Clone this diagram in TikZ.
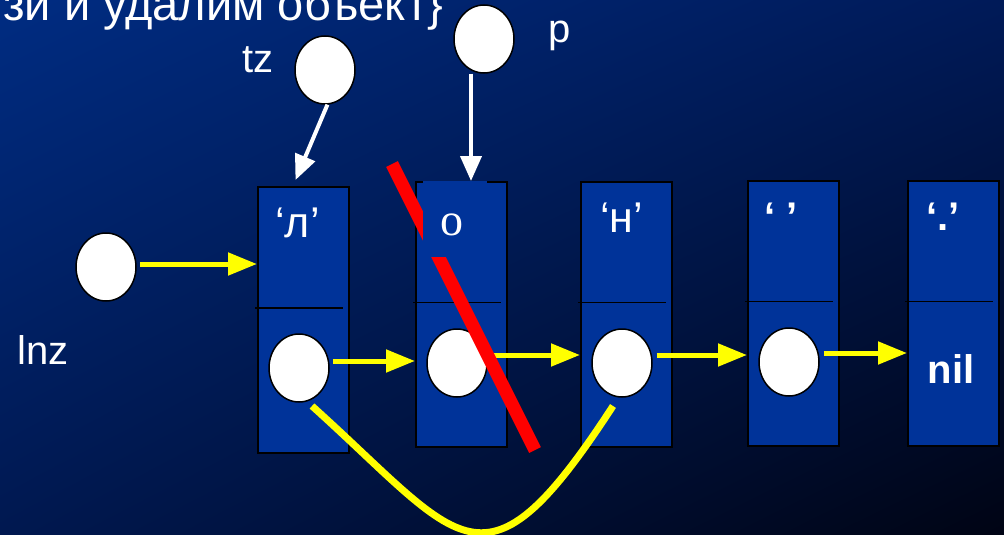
\documentclass[tikz,border=0pt]{standalone}
\usepackage{fontspec}
\setmainfont{Liberation Sans}
\newfontfamily\serifface{Liberation Serif}
\usetikzlibrary{arrows.meta,shapes.geometric,calc,shadings}

\definecolor{bgUL}{RGB}{0,44,130}
\definecolor{bgUR}{RGB}{0,26,88}
\definecolor{bgLL}{RGB}{0,24,80}
\definecolor{bgLR}{RGB}{0,4,20}
\definecolor{cellblue}{RGB}{0,51,153}
\definecolor{linkyellow}{RGB}{255,255,0}
\definecolor{crossred}{RGB}{255,0,0}

\begin{document}
\begin{tikzpicture}[x=1pt,y=-1pt,
  cell/.style={draw=black,line width=2pt,fill=cellblue,minimum width=91pt,
    minimum height=265pt,inner sep=0pt},
  ptr/.style={ellipse,draw=black,line width=1.5pt,fill=white,
    minimum width=60pt,minimum height=68pt,inner sep=0pt},
  link/.style={linkyellow,line width=5pt,-{Triangle[length=29pt,width=22pt]}},
  ref/.style={white,line width=4pt,-{Triangle[length=25pt,width=21pt]}},
  divider/.style={black,line width=1.5pt},
  txt/.style={text=white,inner sep=0pt,anchor=base west,
    font=\fontsize{40}{48}\selectfont},
  val/.style={text=white,inner sep=0pt,anchor=base,
    font=\fontsize{43}{50}\selectfont},
  boldval/.style={text=white,inner sep=0pt,anchor=base,
    font=\fontsize{40}{48}\selectfont\bfseries},
]
\useasboundingbox (0,0) rectangle (1004,535);
\shade[upper left=bgUL,upper right=bgUR,lower left=bgLL,lower right=bgLR]
  (0,0) rectangle (1004,535);

% heading and variable names
\node[txt,font=\fontsize{47}{56}\selectfont] (head) at (3,21) {зи и удалим объект\}};
\node[txt] (tzname) at (242,73) {tz};
\node[txt] (pname) at (548,43) {p};
\node[txt] (lnzname) at (17,364) {lnz};

% list cells
\node[cell,minimum height=266pt] (b1) at (303.5,320) {};
\node[cell] (b2) at (461.5,314.5) {};
\node[cell] (b3) at (626.5,314.5) {};
\node[cell] (b4) at (793.5,313.5) {};
\node[cell] (b5) at (953.5,313.5) {};
\foreach \i in {1,...,5}{
  \coordinate (d\i) at ($(b\i.north west)!0.455!(b\i.south west)$);
  \draw[divider] ([xshift=-2pt]d\i) -- ++(88,0);
}

% cell contents
\node[val] (v1) at (297.5,237) {‘л’};
\node[val] (v3) at (621.5,232) {‘н’};
\node[boldval] (v4) at (781,230) {‘ ’};
\node[boldval] (v5) at (943,230) {‘.’};
\node[boldval] (nil) at (951,383) {nil};

% pointer fields
\node[ptr] (c0) at (106,267) {};
\node[ptr] (c1) at (299,368) {};
\node[ptr] (c2) at (457,363) {};
\node[ptr] (c3) at (622,363) {};
\node[ptr] (c4) at (789,362) {};
\node[ptr] (tz) at (325,70) {};
\node[ptr] (pc) at (484,39) {};

% next links
\draw[link,shorten <=3pt] ([yshift=3pt]c0.east) -- ([yshift=3pt]c0.east -| b1.west);
\draw[link,shorten <=3pt] ([yshift=7pt]c1.east) -- ([yshift=7pt]c1.east -| b2.west);
\draw[link,shorten <=3pt] ([yshift=8pt]c2.east) -- ([yshift=8pt]c2.east -| b3.west);
\draw[link,shorten <=4pt] ([yshift=8pt]c3.east) -- ([yshift=8pt]c3.east -| b4.west);
\draw[link,shorten <=4pt] ([yshift=9pt]c4.east) -- ([yshift=9pt]c4.east -| b5.west);

% bypass link from the first cell straight to the third
\coordinate (bypassA) at ([shift={(13,38)}]c1.center);
\coordinate (bypassB) at ([shift={(-9,43)}]c3.center);
\draw[linkyellow,line width=7pt] (bypassA) .. controls (462,541) and (483,606) .. (bypassB);

% external pointers
\draw[ref] (tz.-86) -- ([shift={(-8,-6)}]b1.north);
\draw[ref] ([xshift=-13pt]pc.south) -- ([xshift=-13pt]pc.south |- b2.north);

% struck-out cell
\coordinate (s1) at (392,164);
\coordinate (s2) at (535,450);
\draw[crossred,line width=13pt] (s1) -- (s2);
\node[fill=cellblue,minimum width=64pt,minimum height=76pt,inner sep=0pt] (ocover) at (455,219) {};
\node[text=white,inner sep=0pt,anchor=base,font=\serifface\fontsize{46}{52}\selectfont] (v2) at (452,235) {o};
\end{tikzpicture}
\end{document}
